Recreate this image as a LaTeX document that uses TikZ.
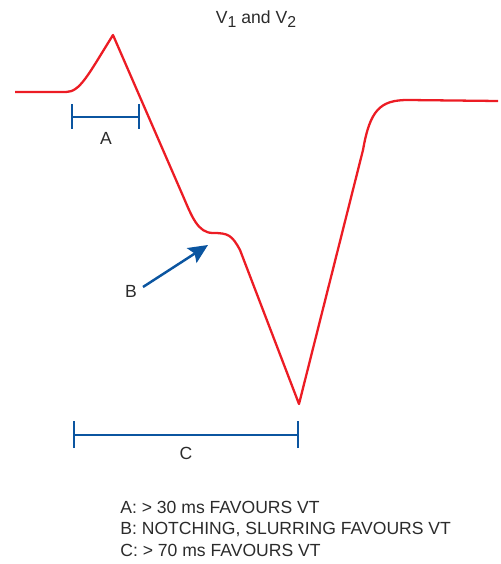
\documentclass[tikz,border=0pt]{standalone}
\usepackage{fontspec}
\setmainfont{Liberation Sans}
\usetikzlibrary{arrows.meta,positioning}
\definecolor{TraceRed}{HTML}{EC1C24}
\definecolor{MarkBlue}{HTML}{0B55A0}
\definecolor{InkGray}{HTML}{2B2B2B}
\newcommand{\lowsub}[1]{\raisebox{-0.45ex}{\fontsize{9}{9}\selectfont #1}}

\begin{document}
\begin{tikzpicture}[x=0.02cm,y=-0.02cm,
    trace/.style={TraceRed,line width=1.3pt,line join=round},
    bracket/.style={MarkBlue,line width=1.4pt},
    lbl/.style={text=InkGray,font=\fontsize{10}{12}\selectfont,inner sep=0pt}]
    \useasboundingbox (0,0) rectangle (500,564);

    % heading
    \node[lbl] (title) at (256,19) {V\lowsub{1} and V\lowsub{2}};

    % the QRS trace
    \coordinate (peak) at (113,35);
    \coordinate (notch) at (213,233);
    \coordinate (trough) at (299,404);
    \draw[trace] (15,92) -- (66,92)
      .. controls (80,92) and (88,75) .. (peak)
      -- (183,196)
      .. controls (192,217) and (198,233) .. (notch)
      .. controls (228,233) and (232,235) .. (240,250)
      -- (trough)
      -- (363,150)
      .. controls (370,110) and (380,100) .. (408,100)
      -- (498,101);

    % interval A
    \coordinate (a1) at (72,117);
    \coordinate (a2) at (139,117);
    \draw[bracket] (a1) -- (a2);
    \draw[bracket] ([yshift=-0.24cm]a1) -- ([yshift=0.26cm]a1);
    \draw[bracket] ([yshift=-0.24cm]a2) -- ([yshift=0.26cm]a2);
    \node[lbl] (labA) at (106,138) {A};

    % notch arrow B
    \node[lbl] (labB) at (131,291) {B};
    \coordinate (bTip) at (208,245);
    \draw[bracket,-{Stealth[length=11pt,width=10pt,inset=2pt]}] (143,287) -- (bTip);

    % interval C
    \coordinate (c1) at (74,435);
    \coordinate (c2) at (298,435);
    \draw[bracket] (c1) -- (c2);
    \draw[bracket] ([yshift=-0.26cm]c1) -- ([yshift=0.28cm]c1);
    \draw[bracket] ([yshift=-0.26cm]c2) -- ([yshift=0.28cm]c2);
    \node[lbl] (labC) at (186,453) {C};

    % legend
    \node[lbl,anchor=base west] (keyA) at (120,513) {A: > 30 ms FAVOURS VT};
    \node[lbl,anchor=base west] (keyB) at (120,534) {B: NOTCHING, SLURRING FAVOURS VT};
    \node[lbl,anchor=base west] (keyC) at (120,556) {C: > 70 ms FAVOURS VT};
  \end{tikzpicture}
\end{document}
